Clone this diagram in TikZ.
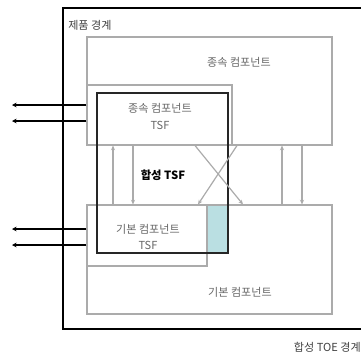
\documentclass[tikz,border=0pt]{standalone}
\usepackage{fontspec}
\setmainfont{Noto Sans CJK KR}
\usetikzlibrary{arrows.meta}
\definecolor{lgray}{HTML}{ABABAB}
\definecolor{tgray}{HTML}{666666}
\definecolor{tealfill}{HTML}{BADFE2}
\begin{document}
\begin{tikzpicture}[x=0.75pt,y=-0.75pt,
  darkline/.style={draw=black!85,line width=0.8pt},
  garrow/.style={draw=lgray,line width=0.9pt,-{Stealth[length=3.5pt,width=3pt]}},
  barrow/.style={draw=black,line width=1.1pt,-{Stealth[length=3.5pt,width=3.5pt]}},
  lbl/.style={font=\fontsize{8.3}{12.5}\selectfont,text=tgray,align=center,inner sep=0pt},
  blbl/.style={font=\fontsize{8.5}{12}\selectfont\bfseries,text=black,inner sep=0pt}]
\useasboundingbox (0,0) rectangle (361,358);
% teal area
\fill[tealfill] (207,205) rectangle (228,253);
% boxes
\node[draw=lgray,line width=0.8pt,minimum width=245*0.75pt,minimum height=108*0.75pt,inner sep=0pt] (depcomp) at (209.5,91) {};
\node[draw=lgray,line width=0.8pt,minimum width=145*0.75pt,minimum height=60*0.75pt,inner sep=0pt] (deptsf) at (159.5,115) {};
\node[draw=lgray,line width=0.8pt,minimum width=245*0.75pt,minimum height=109*0.75pt,inner sep=0pt] (basecomp) at (209.5,259.5) {};
\node[draw=lgray,line width=0.8pt,minimum width=120*0.75pt,minimum height=61*0.75pt,inner sep=0pt] (basetsf) at (147,235.5) {};
\node[darkline,minimum width=131*0.75pt,minimum height=160*0.75pt,inner sep=0pt] (combtsf) at (162.5,173) {};
% outer product boundary (extends past right edge)
\coordinate (otr) at (361,8);
\coordinate (otl) at (63,8);
\coordinate (obl) at (63,329);
\coordinate (obr) at (361,329);
\draw[black,line width=0.85pt] (otr) -- (otl) -- (obl) -- (obr);
% labels
\node[lbl,anchor=west,text=black!75] (prodlbl) at (68,25) {제품 경계};
\node[lbl] (deplbl) at (239,62) {종속 컴포넌트};
\node[lbl] (deptsflbl) at (160,116.5) {종속 컴포넌트\\TSF};
\node[blbl] (comblbl) at (163,175) {합성 TSF};
\node[lbl] (basetsflbl) at (148,237) {기본 컴포넌트\\TSF};
\node[lbl] (baselbl) at (240,292) {기본 컴포넌트};
\node[lbl,anchor=east,text=black!75] (toelbl) at (361,347) {합성 TOE 경계};
% vertical arrows
\draw[garrow] (basecomp.north -| 113,0) -- (depcomp.south -| 113,0);
\draw[garrow] (depcomp.south -| 133,0) -- (basecomp.north -| 133,0);
\draw[garrow] (basecomp.north -| 282,0) -- (depcomp.south -| 282,0);
\draw[garrow] (depcomp.south -| 302,0) -- (basecomp.north -| 302,0);
% cross arrows
\draw[garrow] (depcomp.south -| 195,0) -- (basecomp.north -| 243,0);
\draw[garrow] (depcomp.south -| 237,0) -- (basecomp.north -| 198,0);
% left external arrows
\coordinate (e1) at (12,105);
\coordinate (e2) at (12,121);
\coordinate (e3) at (12,229);
\coordinate (e4) at (12,245);
\draw[barrow] (depcomp.west |- e1) -- (e1);
\draw[barrow] (depcomp.west |- e2) -- (e2);
\draw[barrow] (basecomp.west |- e3) -- (e3);
\draw[barrow] (basecomp.west |- e4) -- (e4);
\end{tikzpicture}
\end{document}
